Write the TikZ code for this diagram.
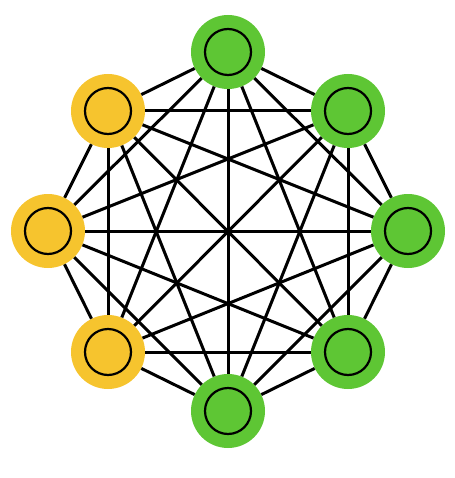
\documentclass[tikz,border=0pt]{standalone}
\usepackage{tikz}

\definecolor{leafgreen}{RGB}{94,198,52}
\definecolor{sunyellow}{RGB}{246,196,46}

\tikzset{
	vert/.style={circle, minimum size=74pt, inner sep=0pt},
	ring/.style={black, line width=2.2pt},
	link/.style={black, line width=3pt}
}

\begin{document}
\begin{tikzpicture}[x=1pt, y=-1pt]
		\useasboundingbox (0,0) rectangle (454,478);
		\node[vert, fill=leafgreen] (top) at (228,52) { };
		\node[vert, fill=leafgreen] (topright) at (348,111) { };
		\node[vert, fill=leafgreen] (right) at (408,231) { };
		\node[vert, fill=leafgreen] (botright) at (348,352) { };
		\node[vert, fill=leafgreen] (bot) at (228,411) { };
		\node[vert, fill=sunyellow] (botleft) at (108,352) { };
		\node[vert, fill=sunyellow] (left) at (48,231) { };
		\node[vert, fill=sunyellow] (topleft) at (108,111) { };
		\draw[ring] (top) circle (23);
		\draw[ring] (topright) circle (23);
		\draw[ring] (right) circle (23);
		\draw[ring] (botright) circle (23);
		\draw[ring] (bot) circle (23);
		\draw[ring] (botleft) circle (23);
		\draw[ring] (left) circle (23);
		\draw[ring] (topleft) circle (23);
		\path[link]
		(top) edge (topright) edge (right) edge (botright) edge (bot) edge (botleft) edge (left) edge (topleft)
		(topright) edge (right) edge (botright) edge (bot) edge (botleft) edge (left) edge (topleft)
		(right) edge (botright) edge (bot) edge (botleft) edge (left) edge (topleft)
		(botright) edge (bot) edge (botleft) edge (left) edge (topleft)
		(bot) edge (botleft) edge (left) edge (topleft)
		(botleft) edge (left) edge (topleft)
		(left) edge (topleft);
		\end{tikzpicture}
\end{document}
